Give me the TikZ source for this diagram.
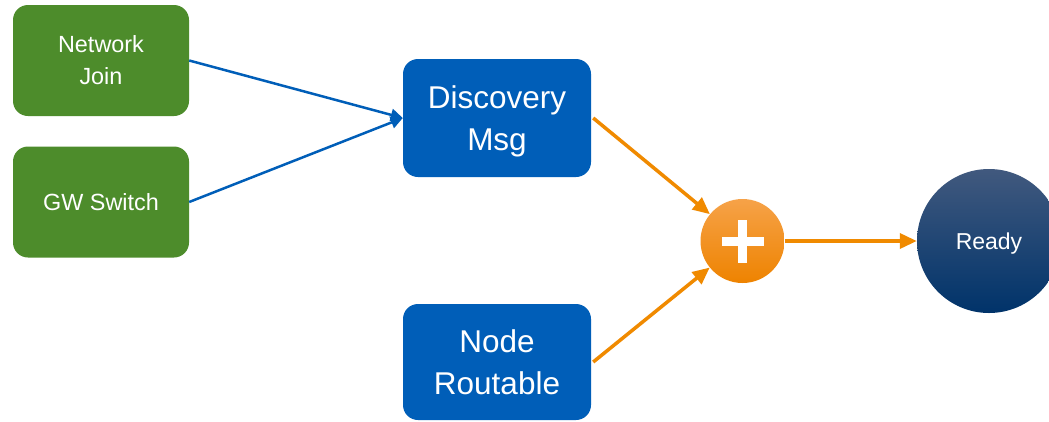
\documentclass[tikz,border=0pt]{standalone}
\usepackage{fontspec}
\setmainfont{Liberation Sans}
\usetikzlibrary{arrows.meta,backgrounds,calc}
\definecolor{grn}{HTML}{4D8C2B}
\definecolor{blu}{HTML}{005EB8}
\definecolor{org}{HTML}{F08A00}
\definecolor{orgtop}{HTML}{F6A248}
\definecolor{orgbot}{HTML}{EE8300}
\definecolor{navytop}{HTML}{41597E}
\definecolor{navybot}{HTML}{00336A}
\tikzset{
  gbox/.style={draw=none, fill=grn, rounded corners=15pt, text=white, align=center,
    minimum width=176pt, minimum height=111pt, inner sep=0pt,
    font=\fontsize{23.4}{32}\selectfont},
  bbox/.style={draw=none, fill=blu, rounded corners=15pt, text=white, align=center,
    minimum width=188pt, minimum height=118pt, inner sep=0pt, text depth=0pt,
    font=\fontsize{31.5}{42}\selectfont},
  pluscirc/.style={circle, minimum size=84pt, inner sep=0pt, draw=none,
    top color=orgtop, bottom color=orgbot,
    path picture={
      \fill[white] ($(path picture bounding box.center)+(-21pt,-4.5pt)$) rectangle ++(42pt,9pt);
      \fill[white] ($(path picture bounding box.center)+(-4.5pt,-21.5pt)$) rectangle ++(9pt,43pt);
    }},
  readycirc/.style={circle, minimum size=144pt, inner sep=0pt, draw=none,
    top color=navytop, bottom color=navybot, text=white, text depth=0pt,
    font=\fontsize{23}{28}\selectfont},
  barrow/.style={draw=blu, line width=2.5pt, -{Triangle[length=12pt,width=12pt]}},
  oarrow/.style={draw=org, line width=3.5pt, -{Triangle[length=17pt,width=15pt]}},
}
\begin{document}
\begin{tikzpicture}[x=1pt,y=-1pt]
\useasboundingbox (0,0) rectangle (1049,421);
\fill[white] (0,0) rectangle (1049,421);

\node[gbox] (nj) at (101,60.5) {Network\\Join};
\node[gbox] (gw) at (101,202) {GW Switch};
\node[bbox] (dm) at (497,118) {Discovery\\Msg};
\node[bbox, minimum height=116pt, text depth=-4pt] (nr) at (497,362) {Node\\Routable};
\node[pluscirc] (pl) at (742.5,241) {};
\node[readycirc] (rd) at (989,241) {Ready};

\begin{pgfonlayer}{background}
  \foreach \i in {1,...,7} {
    \fill[black, opacity=0.05] ($(pl.center)+(1pt,3.5pt)$) circle ({42pt+\i*0.9pt});
    \fill[black, opacity=0.05] ($(rd.center)+(1pt,3.5pt)$) circle ({72pt+\i*0.9pt});
  }
\end{pgfonlayer}

\draw[barrow] (nj.east) -- (dm.west);
\draw[barrow] (gw.east) -- (dm.west);
\draw[oarrow] ($(dm.east)+(2pt,0)$) -- (pl);
\draw[oarrow] ($(nr.east)+(2pt,0)$) -- (pl);
\draw[oarrow] (pl.east) -- (rd.west);
\end{tikzpicture}
\end{document}
